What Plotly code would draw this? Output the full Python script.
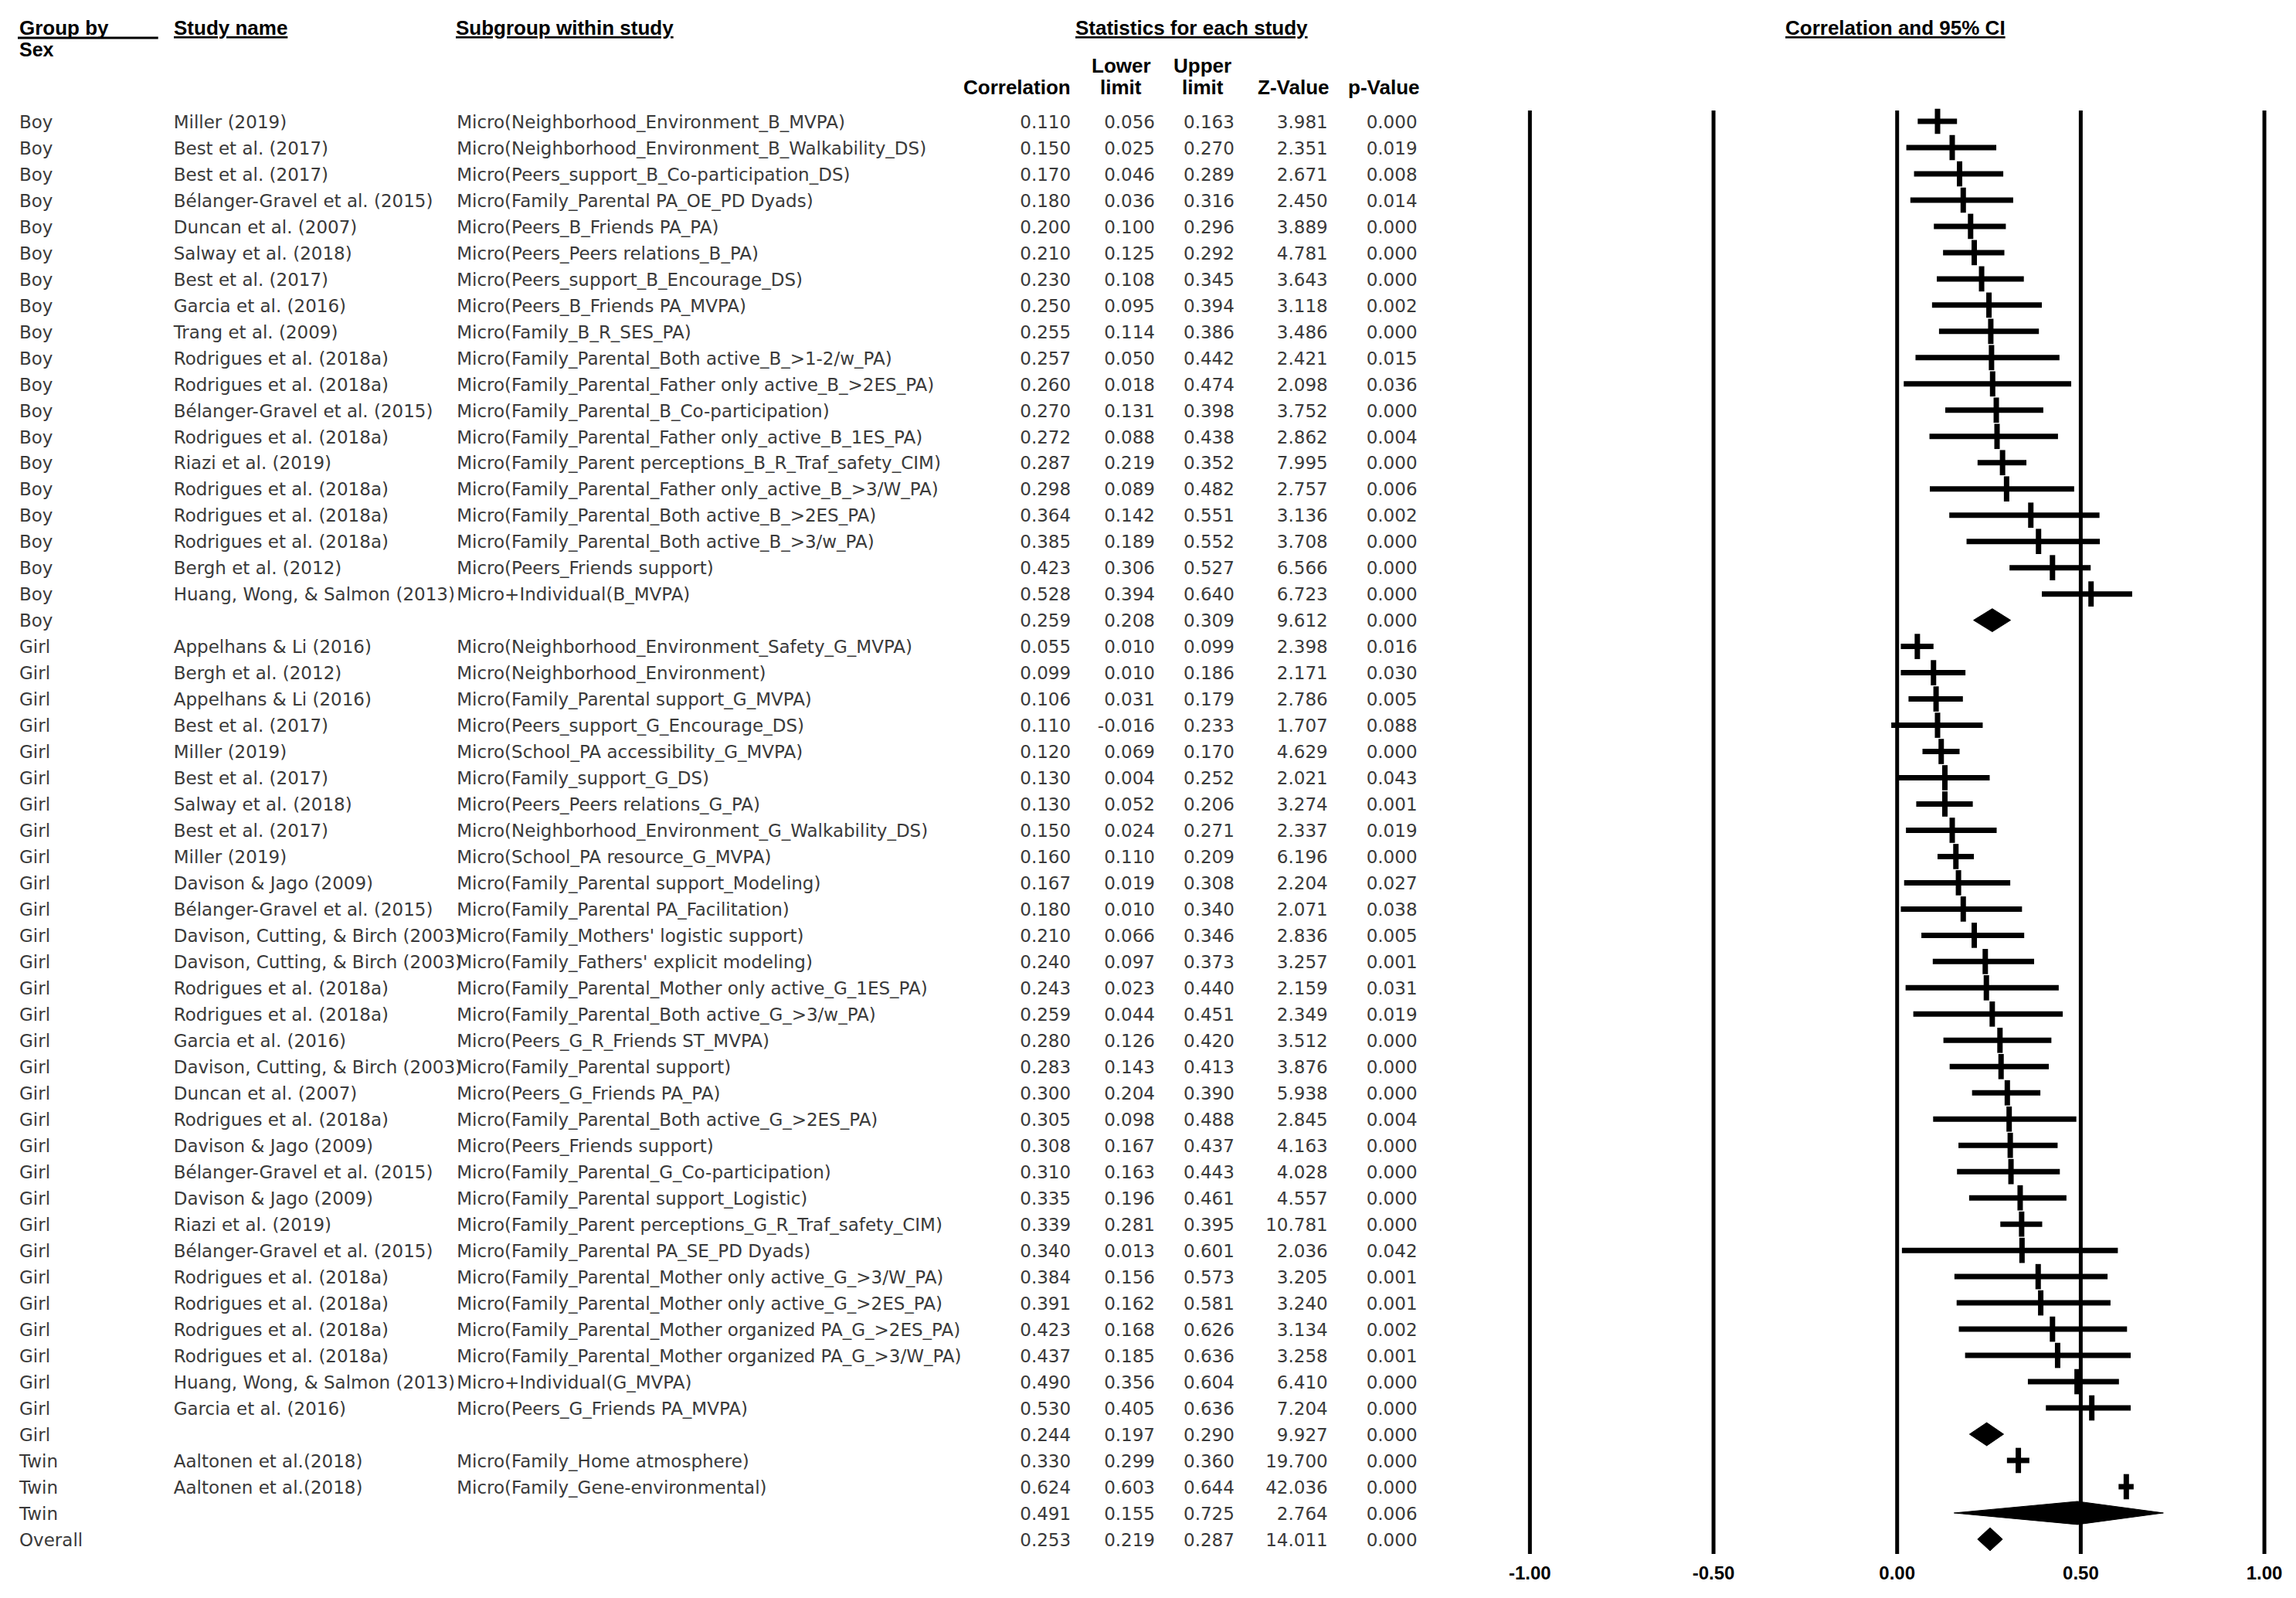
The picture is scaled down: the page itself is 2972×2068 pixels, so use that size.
import plotly.graph_objects as go

# ---------------- data ----------------
sex = (["Boy"] * 20) + (["Girl"] * 31) + (["Twin"] * 3) + ["Overall"]

study = [
    "Miller (2019)", "Best et al. (2017)", "Best et al. (2017)", "Bélanger-Gravel et al. (2015)",
    "Duncan et al. (2007)", "Salway et al. (2018)", "Best et al. (2017)", "Garcia et al. (2016)",
    "Trang et al. (2009)", "Rodrigues et al. (2018a)", "Rodrigues et al. (2018a)",
    "Bélanger-Gravel et al. (2015)", "Rodrigues et al. (2018a)", "Riazi et al. (2019)",
    "Rodrigues et al. (2018a)", "Rodrigues et al. (2018a)", "Rodrigues et al. (2018a)",
    "Bergh et al. (2012)", "Huang, Wong, & Salmon (2013)", "",
    "Appelhans & Li (2016)", "Bergh et al. (2012)", "Appelhans & Li (2016)", "Best et al. (2017)",
    "Miller (2019)", "Best et al. (2017)", "Salway et al. (2018)", "Best et al. (2017)",
    "Miller (2019)", "Davison & Jago (2009)", "Bélanger-Gravel et al. (2015)",
    "Davison, Cutting, & Birch (2003)", "Davison, Cutting, & Birch (2003)",
    "Rodrigues et al. (2018a)", "Rodrigues et al. (2018a)", "Garcia et al. (2016)",
    "Davison, Cutting, & Birch (2003)", "Duncan et al. (2007)", "Rodrigues et al. (2018a)",
    "Davison & Jago (2009)", "Bélanger-Gravel et al. (2015)", "Davison & Jago (2009)",
    "Riazi et al. (2019)", "Bélanger-Gravel et al. (2015)", "Rodrigues et al. (2018a)",
    "Rodrigues et al. (2018a)", "Rodrigues et al. (2018a)", "Rodrigues et al. (2018a)",
    "Huang, Wong, & Salmon (2013)", "Garcia et al. (2016)", "",
    "Aaltonen et al.(2018)", "Aaltonen et al.(2018)", "", "",
]

subgroup = [
    "Micro(Neighborhood_Environment_B_MVPA)",
    "Micro(Neighborhood_Environment_B_Walkability_DS)",
    "Micro(Peers_support_B_Co-participation_DS)",
    "Micro(Family_Parental PA_OE_PD Dyads)",
    "Micro(Peers_B_Friends PA_PA)",
    "Micro(Peers_Peers relations_B_PA)",
    "Micro(Peers_support_B_Encourage_DS)",
    "Micro(Peers_B_Friends PA_MVPA)",
    "Micro(Family_B_R_SES_PA)",
    "Micro(Family_Parental_Both active_B_>1-2/w_PA)",
    "Micro(Family_Parental_Father only active_B_>2ES_PA)",
    "Micro(Family_Parental_B_Co-participation)",
    "Micro(Family_Parental_Father only_active_B_1ES_PA)",
    "Micro(Family_Parent perceptions_B_R_Traf_safety_CIM)",
    "Micro(Family_Parental_Father only_active_B_>3/W_PA)",
    "Micro(Family_Parental_Both active_B_>2ES_PA)",
    "Micro(Family_Parental_Both active_B_>3/w_PA)",
    "Micro(Peers_Friends support)",
    "Micro+Individual(B_MVPA)",
    "",
    "Micro(Neighborhood_Environment_Safety_G_MVPA)",
    "Micro(Neighborhood_Environment)",
    "Micro(Family_Parental support_G_MVPA)",
    "Micro(Peers_support_G_Encourage_DS)",
    "Micro(School_PA accessibility_G_MVPA)",
    "Micro(Family_support_G_DS)",
    "Micro(Peers_Peers relations_G_PA)",
    "Micro(Neighborhood_Environment_G_Walkability_DS)",
    "Micro(School_PA resource_G_MVPA)",
    "Micro(Family_Parental support_Modeling)",
    "Micro(Family_Parental PA_Facilitation)",
    "Micro(Family_Mothers' logistic support)",
    "Micro(Family_Fathers' explicit modeling)",
    "Micro(Family_Parental_Mother only active_G_1ES_PA)",
    "Micro(Family_Parental_Both active_G_>3/w_PA)",
    "Micro(Peers_G_R_Friends ST_MVPA)",
    "Micro(Family_Parental support)",
    "Micro(Peers_G_Friends PA_PA)",
    "Micro(Family_Parental_Both active_G_>2ES_PA)",
    "Micro(Peers_Friends support)",
    "Micro(Family_Parental_G_Co-participation)",
    "Micro(Family_Parental support_Logistic)",
    "Micro(Family_Parent perceptions_G_R_Traf_safety_CIM)",
    "Micro(Family_Parental PA_SE_PD Dyads)",
    "Micro(Family_Parental_Mother only active_G_>3/W_PA)",
    "Micro(Family_Parental_Mother only active_G_>2ES_PA)",
    "Micro(Family_Parental_Mother organized PA_G_>2ES_PA)",
    "Micro(Family_Parental_Mother organized PA_G_>3/W_PA)",
    "Micro+Individual(G_MVPA)",
    "Micro(Peers_G_Friends PA_MVPA)",
    "",
    "Micro(Family_Home atmosphere)",
    "Micro(Family_Gene-environmental)",
    "",
    "",
]

correlation = [
    0.110, 0.150, 0.170, 0.180, 0.200, 0.210, 0.230, 0.250, 0.255, 0.257,
    0.260, 0.270, 0.272, 0.287, 0.298, 0.364, 0.385, 0.423, 0.528, 0.259,
    0.055, 0.099, 0.106, 0.110, 0.120, 0.130, 0.130, 0.150, 0.160, 0.167,
    0.180, 0.210, 0.240, 0.243, 0.259, 0.280, 0.283, 0.300, 0.305, 0.308,
    0.310, 0.335, 0.339, 0.340, 0.384, 0.391, 0.423, 0.437, 0.490, 0.530,
    0.244, 0.330, 0.624, 0.491, 0.253,
]
lower_limit = [
    0.056, 0.025, 0.046, 0.036, 0.100, 0.125, 0.108, 0.095, 0.114, 0.050,
    0.018, 0.131, 0.088, 0.219, 0.089, 0.142, 0.189, 0.306, 0.394, 0.208,
    0.010, 0.010, 0.031, -0.016, 0.069, 0.004, 0.052, 0.024, 0.110, 0.019,
    0.010, 0.066, 0.097, 0.023, 0.044, 0.126, 0.143, 0.204, 0.098, 0.167,
    0.163, 0.196, 0.281, 0.013, 0.156, 0.162, 0.168, 0.185, 0.356, 0.405,
    0.197, 0.299, 0.603, 0.155, 0.219,
]
upper_limit = [
    0.163, 0.270, 0.289, 0.316, 0.296, 0.292, 0.345, 0.394, 0.386, 0.442,
    0.474, 0.398, 0.438, 0.352, 0.482, 0.551, 0.552, 0.527, 0.640, 0.309,
    0.099, 0.186, 0.179, 0.233, 0.170, 0.252, 0.206, 0.271, 0.209, 0.308,
    0.340, 0.346, 0.373, 0.440, 0.451, 0.420, 0.413, 0.390, 0.488, 0.437,
    0.443, 0.461, 0.395, 0.601, 0.573, 0.581, 0.626, 0.636, 0.604, 0.636,
    0.290, 0.360, 0.644, 0.725, 0.287,
]
z_value = [
    3.981, 2.351, 2.671, 2.450, 3.889, 4.781, 3.643, 3.118, 3.486, 2.421,
    2.098, 3.752, 2.862, 7.995, 2.757, 3.136, 3.708, 6.566, 6.723, 9.612,
    2.398, 2.171, 2.786, 1.707, 4.629, 2.021, 3.274, 2.337, 6.196, 2.204,
    2.071, 2.836, 3.257, 2.159, 2.349, 3.512, 3.876, 5.938, 2.845, 4.163,
    4.028, 4.557, 10.781, 2.036, 3.205, 3.240, 3.134, 3.258, 6.410, 7.204,
    9.927, 19.700, 42.036, 2.764, 14.011,
]
p_value = [
    0.000, 0.019, 0.008, 0.014, 0.000, 0.000, 0.000, 0.002, 0.000, 0.015,
    0.036, 0.000, 0.004, 0.000, 0.006, 0.002, 0.000, 0.000, 0.000, 0.000,
    0.016, 0.030, 0.005, 0.088, 0.000, 0.043, 0.001, 0.019, 0.000, 0.027,
    0.038, 0.005, 0.001, 0.031, 0.019, 0.000, 0.000, 0.000, 0.004, 0.000,
    0.000, 0.000, 0.000, 0.042, 0.001, 0.001, 0.002, 0.001, 0.000, 0.000,
    0.000, 0.000, 0.000, 0.006, 0.000,
]
# pooled (summary) rows drawn as diamonds
is_summary = [s == "" for s in study]

axis_ticks = [-1.0, -0.5, 0.0, 0.5, 1.0]
axis_tick_labels = ["-1.00", "-0.50", "0.00", "0.50", "1.00"]

# ---------------- layout geometry (pixels, page offset compensated) ----------------
W, H = 2972, 2068
ROW0_PX, ROW_STEP = 149.0, 33.98
PLOT_BOTTOM_PX = 2003.0
LINE_TOP_PX = 135.0
X_M1_PX, X_P1_PX = 1971.0, 2923.0
UNIT = (X_P1_PX - X_M1_PX) / 2.0
XPAD = 0.05
TEXT_SHIFT_PX = -3.0


def row_of(py):
    return (py - ROW0_PX) / ROW_STEP


def paper_y(py):
    return 1.0 - py / H


n = len(correlation)
rows = list(range(n))

BODY_FONT = "DejaVu Sans, Verdana, sans-serif"
HEAD_FONT = "Liberation Sans, Arial, sans-serif"
BODY_SIZE = 23
BODY_COLOR = "#3a3a3a"

fig = go.Figure()

# --- text table on a pixel-based helper axis pair (x2, y2) ---
def add_text_col(xpx, texts, pos):
    fig.add_trace(go.Scatter(
        x=[xpx] * n, y=rows, text=texts, mode="text", textposition=pos,
        textfont=dict(family=BODY_FONT, size=BODY_SIZE, color=BODY_COLOR),
        xaxis="x2", yaxis="y2", cliponaxis=False, hoverinfo="skip", showlegend=False,
    ))

add_text_col(13, sex, "middle right")
add_text_col(213, study, "middle right")
add_text_col(580, subgroup, "middle right")
add_text_col(1376, [f"{v:.3f}" for v in correlation], "middle left")
add_text_col(1485, [f"{v:.3f}" for v in lower_limit], "middle left")
add_text_col(1588, [f"{v:.3f}" for v in upper_limit], "middle left")
add_text_col(1709, [f"{v:.3f}" for v in z_value], "middle left")
add_text_col(1825, [f"{v:.3f}" for v in p_value], "middle left")

# --- forest plot marks ---
ci_x, ci_y, tk_x, tk_y = [], [], [], []
for i in rows:
    if is_summary[i]:
        continue
    ci_x += [lower_limit[i], upper_limit[i], None]
    ci_y += [i, i, None]
    tk_x += [correlation[i], correlation[i], None]
    tk_y += [i - 0.48, i + 0.48, None]

fig.add_trace(go.Scatter(x=ci_x, y=ci_y, mode="lines", line=dict(color="black", width=7),
                         hoverinfo="skip", showlegend=False, xaxis="x", yaxis="y"))
fig.add_trace(go.Scatter(x=tk_x, y=tk_y, mode="lines", line=dict(color="black", width=7),
                         hoverinfo="skip", showlegend=False, xaxis="x", yaxis="y"))

for i in rows:
    if not is_summary[i]:
        continue
    h = 0.44
    fig.add_trace(go.Scatter(
        x=[lower_limit[i], correlation[i], upper_limit[i], correlation[i], lower_limit[i]],
        y=[i, i - h, i, i + h, i],
        mode="lines", fill="toself", fillcolor="black", line=dict(color="black", width=1),
        hoverinfo="skip", showlegend=False, xaxis="x", yaxis="y"))

# vertical reference lines
for v in axis_ticks:
    fig.add_shape(type="line", xref="x", yref="y", x0=v, x1=v,
                  y0=row_of(LINE_TOP_PX), y1=row_of(PLOT_BOTTOM_PX),
                  line=dict(color="black", width=5), layer="below")

# --- headers ---
def hdr(text, xpx, ypx, anchor, bold=True, size=26):
    fig.add_annotation(text=(f"<b>{text}</b>" if bold else text), xref="x2", yref="paper",
                       x=xpx, y=paper_y(ypx), xanchor=anchor, yanchor="middle",
                       showarrow=False, font=dict(family=HEAD_FONT, size=size, color="black"))

HY1, HY2, HY3, HY4 = 28, 56, 77, 105
hdr("Group by", 11, HY1, "left")
hdr("<u>Study name</u>", 211, HY1, "left")
hdr("<u>Subgroup within study</u>", 577, HY1, "left")
hdr("<u>Statistics for each study</u>", 1533, HY1, "center")
hdr("<u>Correlation and 95% CI</u>", 2445, HY1, "center")
hdr("Sex", 11, HY2, "left", size=25)
hdr("Lower", 1441, HY3, "center", size=26)
hdr("Upper", 1547, HY3, "center", size=26)
hdr("Correlation", 1378, HY4, "right", size=26)
hdr("limit", 1441, HY4, "center", size=26)
hdr("limit", 1547, HY4, "center", size=26)
hdr("Z-Value", 1712, HY4, "right", size=26)
hdr("p-Value", 1829, HY4, "right", size=26)
fig.add_shape(type="line", xref="x2", yref="paper", x0=11, x1=193,
              y0=paper_y(41), y1=paper_y(41), line=dict(color="black", width=3))

shift_rows = TEXT_SHIFT_PX / ROW_STEP
fig.update_layout(
    width=W, height=H,
    margin=dict(l=0, r=0, t=0, b=0),
    paper_bgcolor="white", plot_bgcolor="rgba(0,0,0,0)",
    xaxis=dict(domain=[(X_M1_PX - XPAD * UNIT) / W, (X_P1_PX + XPAD * UNIT) / W],
               range=[-1 - XPAD, 1 + XPAD], anchor="y",
               tickvals=axis_ticks, ticktext=[f"<b>{t}</b>" for t in axis_tick_labels],
               tickfont=dict(family=HEAD_FONT, size=24, color="black"),
               showgrid=False, zeroline=False, showline=False, ticks="",
               ticklabelstandoff=8),
    xaxis2=dict(domain=[0, 1], range=[0, W], anchor="y2", visible=False),
    yaxis=dict(domain=[1 - PLOT_BOTTOM_PX / H, 1],
               range=[row_of(PLOT_BOTTOM_PX), row_of(0)],
               visible=False, showgrid=False, zeroline=False),
    yaxis2=dict(domain=[1 - PLOT_BOTTOM_PX / H, 1],
                range=[row_of(PLOT_BOTTOM_PX) + shift_rows, row_of(0) + shift_rows],
                visible=False, showgrid=False, zeroline=False, anchor="x2"),
    showlegend=False,
)

fig.write_html("out.html")
